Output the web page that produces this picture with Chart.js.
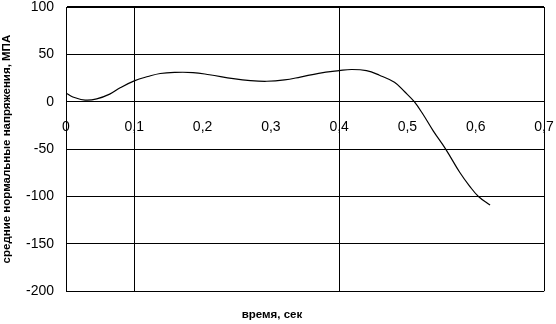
<!DOCTYPE html>
<html>
<head>
<meta charset="utf-8">
<script src="https://cdn.jsdelivr.net/npm/chart.js@4.4.1/dist/chart.umd.min.js"></script>
<style>
  html, body { margin: 0; padding: 0; background: #fff; }
  #wrap { width: 556px; height: 324px; }
</style>
</head>
<body>
<div id="wrap"><canvas id="chart"></canvas></div>
<script>
// time, s
const times = [0, 0.01, 0.028, 0.045, 0.064, 0.08, 0.1, 0.12, 0.138, 0.16, 0.186, 0.21, 0.245, 0.27, 0.294, 0.32, 0.343, 0.37, 0.4, 0.418, 0.44, 0.459, 0.481, 0.496, 0.51, 0.523, 0.538, 0.556, 0.577, 0.591, 0.604, 0.621]
// mean normal stress, MPa
const stress = [9.2, 5, 1.8, 3, 8, 15, 22, 26.6, 29.8, 31, 30.8, 28.5, 24.4, 22.3, 21.6, 23, 26, 30, 32.8, 34, 32.8, 28, 20.5, 10.5, 0, -13.5, -31, -50, -75, -89, -100, -109]

const xTicks = [0, 0.1, 0.2, 0.3, 0.4, 0.5, 0.6, 0.7]
const xGridAt = [0.1, 0.4, 0.7]
const yTicks = [-200, -150, -100, -50, 0, 50, 100]

const fontFamily = '"Liberation Sans", Arial, sans-serif'

const points = times.map((t, i) => ({ x: t, y: stress[i] }))

new Chart(document.getElementById('chart').getContext('2d'), {
  type: 'line',
  data: {
    datasets: [{
      data: points,
      borderColor: '#000',
      borderWidth: 1.2,
      pointRadius: 0,
      fill: false,
      tension: 0.4
    }]
  },
  options: {
    responsive: true,
    maintainAspectRatio: false,
    animation: false,
    layout: { padding: { top: 7, right: 12, left: 0, bottom: 0 } },
    plugins: {
      legend: { display: false },
      tooltip: { enabled: false },
      title: {
        display: true,
        position: 'bottom',
        text: 'время, сек',
        color: '#000',
        font: { family: fontFamily, size: 11.5, weight: 'bold' },
        padding: { top: 17, bottom: 2 }
      }
    },
    scales: {
      x: {
        type: 'linear',
        position: { y: 0 },
        min: 0,
        max: 0.7,
        afterBuildTicks: (scale) => { scale.ticks = xTicks.map(v => ({ value: v })) },
        // tick padding would otherwise eat into the plot area
        afterFit: (scale) => { scale.paddingLeft = 0; scale.paddingRight = 0 },
        border: { display: true, color: '#000', width: 1 },
        grid: {
          drawTicks: false,
          color: (ctx) => xGridAt.some(v => Math.abs(v - ctx.tick.value) < 1e-6) ? '#000' : 'rgba(0,0,0,0)',
          lineWidth: 1
        },
        ticks: {
          color: '#000',
          padding: 17,
          maxRotation: 0,
          font: { family: fontFamily, size: 14 },
          callback: (v) => v === 0 ? '0' : v.toFixed(1).replace('.', ',')
        }
      },
      y: {
        type: 'linear',
        min: -200,
        max: 100,
        afterBuildTicks: (scale) => { scale.ticks = yTicks.map(v => ({ value: v })) },
        afterFit: (scale) => { scale.width = 66; scale.paddingTop = 0; scale.paddingBottom = 0 },
        border: { display: true, color: '#000', width: 1 },
        grid: {
          drawTicks: false,
          color: '#000',
          lineWidth: (ctx) => ctx.tick.value === 100 ? 2 : 1
        },
        ticks: {
          color: '#000',
          padding: 12,
          font: { family: fontFamily, size: 14 }
        },
        title: {
          display: true,
          text: 'средние нормальные напряжения, МПА',
          color: '#000',
          font: { family: fontFamily, size: 11.5, weight: 'bold' },
          padding: { top: 0, bottom: 0 }
        }
      }
    }
  }
})
</script>
</body>
</html>
